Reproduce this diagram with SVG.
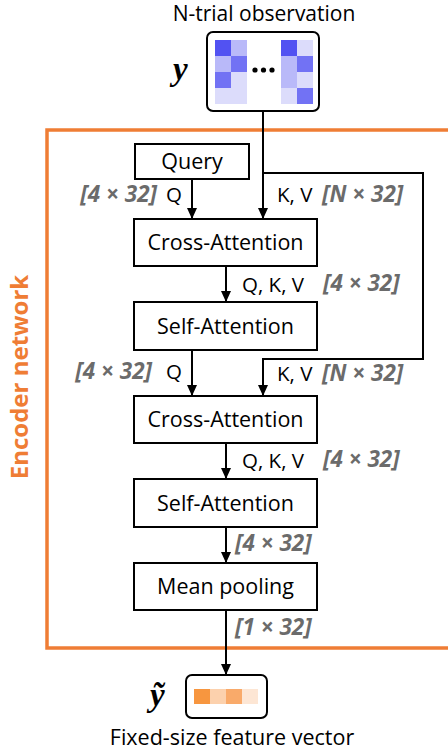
<svg xmlns="http://www.w3.org/2000/svg" width="448" height="754" viewBox="0 0 448 754">
<style>
.box{fill:#fff;stroke:#000;stroke-width:2}
.bt{font-family:"Open Sans",sans-serif;font-size:21.5px;fill:#000;text-anchor:middle}
.lb{font-family:"Open Sans",sans-serif;font-size:20.5px;fill:#000}
.dim{font-family:"Open Sans",sans-serif;font-size:22.5px;font-weight:bold;font-style:italic;fill:#6b6b6b}
.math{font-family:"Liberation Serif",serif;font-weight:bold;font-style:italic;font-size:33px;fill:#000}
.ln{fill:none;stroke:#000;stroke-width:2}
</style>
<defs>
<marker id="ah" markerUnits="userSpaceOnUse" markerWidth="12" markerHeight="12" refX="11" refY="5" orient="auto">
<path d="M0,0 L11,5 L0,10 z" fill="#000"/>
</marker>
</defs>
<g id="encoder-frame">
<rect x="47" y="130" width="420" height="518" fill="none" stroke="#ef7d35" stroke-width="3.5"/>
<text transform="translate(28,377) rotate(-90)" text-anchor="middle" font-family="Open Sans, sans-serif" font-weight="bold" font-size="24" fill="#ef7d35">Encoder network</text>
</g>
<g id="observation">
<text x="264" y="21" font-family="Open Sans, sans-serif" font-size="21px" text-anchor="middle" fill="#000">N-trial observation</text>
<text class="math" x="173" y="80">y</text>
<rect x="207" y="32" width="112" height="79" rx="6" fill="#fff" stroke="#000" stroke-width="2"/>
<rect x="215" y="40" width="16" height="16" fill="#5252f2"/>
<rect x="231" y="40" width="16" height="16" fill="#b9b9f9"/>
<rect x="215" y="56" width="16" height="16" fill="#b9b9f9"/>
<rect x="231" y="56" width="16" height="16" fill="#7272f4"/>
<rect x="215" y="72" width="16" height="16" fill="#7272f4"/>
<rect x="231" y="72" width="16" height="16" fill="#dcdcfb"/>
<rect x="215" y="88" width="16" height="16" fill="#dcdcfb"/>
<rect x="231" y="88" width="16" height="16" fill="#dcdcfb"/>
<rect x="281" y="40" width="16" height="16" fill="#5252f2"/>
<rect x="297" y="40" width="16" height="16" fill="#dcdcfb"/>
<rect x="281" y="56" width="16" height="32" fill="#b9b9f9"/>
<rect x="297" y="56" width="16" height="16" fill="#7272f4"/>
<rect x="297" y="72" width="16" height="16" fill="#dcdcfb"/>
<rect x="281" y="88" width="16" height="16" fill="#dcdcfb"/>
<rect x="297" y="88" width="16" height="16" fill="#7272f4"/>
<circle cx="255" cy="70" r="2.6"/>
<circle cx="263.5" cy="70" r="2.6"/>
<circle cx="272" cy="70" r="2.6"/>
</g>
<g id="connectors">
<path class="ln" d="M263,111 V219" marker-end="url(#ah)"/>
<path class="ln" d="M263,173 H423 V359 H263 V396" marker-end="url(#ah)"/>
<path class="ln" d="M192,179 V219" marker-end="url(#ah)"/>
<path class="ln" d="M226,266 V302" marker-end="url(#ah)"/>
<path class="ln" d="M192,350 V396" marker-end="url(#ah)"/>
<path class="ln" d="M226,443 V479" marker-end="url(#ah)"/>
<path class="ln" d="M226,527 V563" marker-end="url(#ah)"/>
<path class="ln" d="M226,610 V675" marker-end="url(#ah)"/>
<text class="dim" x="157" y="202" text-anchor="end">[4 × 32]</text>
<text class="lb" x="166" y="202">Q</text>
<text class="lb" x="277" y="202">K, V</text>
<text class="dim" x="322" y="202">[N × 32]</text>
<text class="lb" x="242" y="292">Q, K, V</text>
<text class="dim" x="323" y="291">[4 × 32]</text>
<text class="dim" x="152" y="379" text-anchor="end">[4 × 32]</text>
<text class="lb" x="166" y="379">Q</text>
<text class="lb" x="277" y="381">K, V</text>
<text class="dim" x="322" y="381">[N × 32]</text>
<text class="lb" x="242" y="468">Q, K, V</text>
<text class="dim" x="323" y="467">[4 × 32]</text>
<text class="dim" x="235" y="551">[4 × 32]</text>
<text class="dim" x="235" y="635">[1 × 32]</text>
</g>
<g id="query">
<rect class="box" x="135" y="144" width="114" height="35"/>
<text class="bt" x="192" y="169">Query</text>
</g>
<g id="cross-attention-1">
<rect class="box" x="134" y="219" width="183" height="47"/>
<text class="bt" x="225.5" y="250">Cross-Attention</text>
</g>
<g id="self-attention-1">
<rect class="box" x="134" y="302" width="183" height="48"/>
<text class="bt" x="225.5" y="333.5">Self-Attention</text>
</g>
<g id="cross-attention-2">
<rect class="box" x="134" y="396" width="183" height="47"/>
<text class="bt" x="225.5" y="427">Cross-Attention</text>
</g>
<g id="self-attention-2">
<rect class="box" x="134" y="479" width="183" height="48"/>
<text class="bt" x="225.5" y="510.5">Self-Attention</text>
</g>
<g id="mean-pooling">
<rect class="box" x="134" y="563" width="183" height="47"/>
<text class="bt" x="225.5" y="594">Mean pooling</text>
</g>
<g id="feature-vector">
<text class="math" x="150" y="706">ỹ</text>
<rect x="186" y="675" width="81" height="43" rx="6" fill="#fff" stroke="#000" stroke-width="2"/>
<rect x="194" y="689" width="16" height="15" fill="#f7963f"/>
<rect x="210" y="689" width="16" height="15" fill="#fcd1ad"/>
<rect x="226" y="689" width="16" height="15" fill="#f9aa6a"/>
<rect x="242" y="689" width="16" height="15" fill="#fde6d4"/>
<text class="bt" x="232" y="745">Fixed-size feature vector</text>
</g>
</svg>
